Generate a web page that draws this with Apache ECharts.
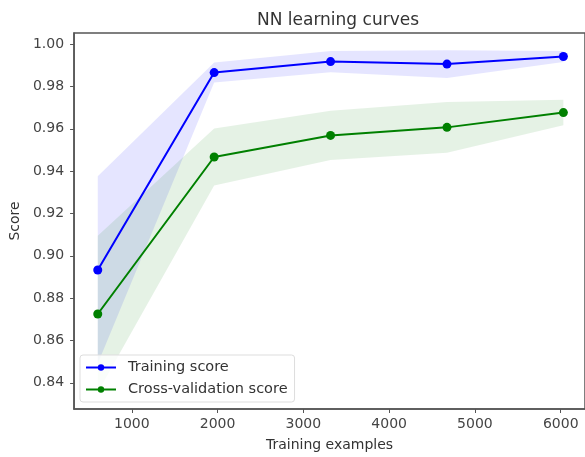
<!DOCTYPE html>
<html>
<head>
<meta charset="utf-8">
<script src="https://cdn.jsdelivr.net/npm/echarts@6/dist/echarts.min.js"></script>
<style>
html, body { margin: 0; padding: 0; background: #fff; }
#chart { width: 585px; height: 457px; }
</style>
</head>
<body>
<div id="chart"></div>
<script>
// values
const trainSizes = [603, 1960, 3317, 4674, 6031];
const trainMean = [0.8933, 0.9866, 0.9918, 0.9906, 0.9942];
const trainUpper = [0.9376, 0.9913, 0.9968, 0.9972, 0.9968];
const trainLower = [0.8490, 0.9819, 0.9868, 0.9840, 0.9916];
const cvMean = [0.8725, 0.9467, 0.9569, 0.9607, 0.9677];
const cvUpper = [0.9095, 0.9602, 0.9685, 0.9727, 0.9737];
const cvLower = [0.8355, 0.9332, 0.9453, 0.9487, 0.9617];
const xTicks = [1000, 2000, 3000, 4000, 5000, 6000];
const yTicks = [0.84, 0.86, 0.88, 0.90, 0.92, 0.94, 0.96, 0.98, 1.00];

const font = 'DejaVu Sans';
const axisGray = '#555';

// band between lower and upper drawn as one polygon
function band(lower, upper, color) {
    return {
        type: 'custom',
        silent: true,
        z: 1,
        data: trainSizes.map((x, i) => [x, lower[i], upper[i]]),
        renderItem: (params, api) => {
            if (params.dataIndex !== 0) return null;
            let top = trainSizes.map((x, i) => api.coord([x, upper[i]]));
            let bottom = trainSizes.map((x, i) => api.coord([x, lower[i]])).reverse();
            return {
                type: 'polygon',
                shape: { points: top.concat(bottom) },
                style: { fill: color }
            };
        }
    };
}

const chart = echarts.init(document.getElementById('chart'));
chart.setOption({
    animation: false,
    backgroundColor: '#fff',
    title: {
        text: 'NN learning curves',
        left: 333,
        textAlign: 'center',
        top: 7,
        textStyle: { fontFamily: font, fontSize: 17, fontWeight: 'normal', color: '#333' }
    },
    grid: {
        left: 74,
        top: 33,
        right: 0,
        bottom: 47,
        show: true,
        borderColor: axisGray,
        borderWidth: 1.5
    },
    legend: {
        data: ['Training score', 'Cross-validation score'],
        orient: 'vertical',
        left: 80,
        top: 355,
        padding: [5, 7, 5, 5],
        itemWidth: 30,
        itemHeight: 8,
        itemGap: 7,
        backgroundColor: 'rgba(255,255,255,0.8)',
        borderColor: '#ddd',
        borderWidth: 1,
        borderRadius: 3,
        textStyle: { fontFamily: font, fontSize: 14.5, color: '#333', padding: [0, 0, 0, 7] }
    },
    xAxis: {
        type: 'value',
        min: 327,
        max: 6283,
        name: 'Training examples',
        nameLocation: 'middle',
        nameGap: 29,
        nameTextStyle: { fontFamily: font, fontSize: 14, color: '#333' },
        axisLine: { lineStyle: { color: axisGray, width: 1.5 } },
        axisTick: { show: true, length: 4, lineStyle: { color: axisGray }, customValues: xTicks },
        axisLabel: {
            fontFamily: font, fontSize: 14, color: '#444', margin: 8,
            customValues: xTicks,
            formatter: v => String(v)
        },
        splitLine: { show: false }
    },
    yAxis: {
        type: 'value',
        min: 0.8276,
        max: 1.0053,
        name: 'Score',
        nameLocation: 'middle',
        nameGap: 49,
        nameTextStyle: { fontFamily: font, fontSize: 14, color: '#333' },
        axisLine: { show: true, lineStyle: { color: axisGray, width: 1.5 } },
        axisTick: { show: true, length: 4, lineStyle: { color: axisGray }, customValues: yTicks },
        axisLabel: {
            fontFamily: font, fontSize: 14, color: '#444', margin: 10,
            customValues: yTicks,
            formatter: v => v.toFixed(2)
        },
        splitLine: { show: false }
    },
    series: [
        band(trainLower, trainUpper, 'rgba(0,0,255,0.1)'),
        band(cvLower, cvUpper, 'rgba(0,128,0,0.1)'),
        {
            name: 'Training score',
            type: 'line',
            z: 3,
            data: trainSizes.map((x, i) => [x, trainMean[i]]),
            symbol: 'circle',
            symbolSize: 9,
            color: '#0000ff',
            lineStyle: { color: '#0000ff', width: 2 },
            itemStyle: { color: '#0000ff' }
        },
        {
            name: 'Cross-validation score',
            type: 'line',
            z: 3,
            data: trainSizes.map((x, i) => [x, cvMean[i]]),
            symbol: 'circle',
            symbolSize: 9,
            color: '#008000',
            lineStyle: { color: '#008000', width: 2 },
            itemStyle: { color: '#008000' }
        }
    ]
});
</script>
</body>
</html>
